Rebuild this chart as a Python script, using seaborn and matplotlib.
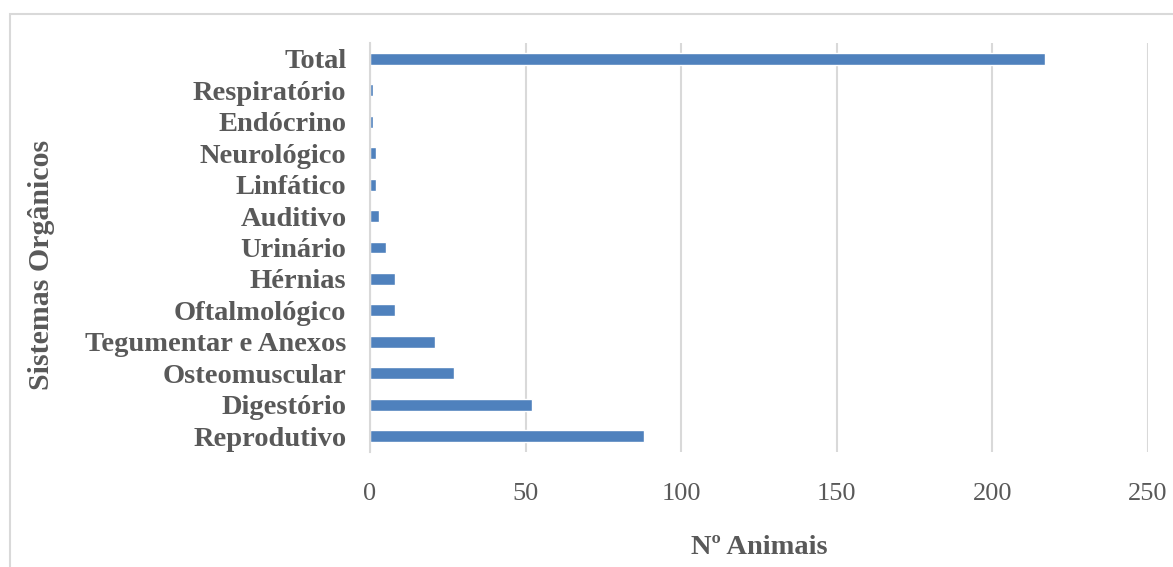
import matplotlib
matplotlib.use("Agg")
import matplotlib.pyplot as plt
from matplotlib.patches import Rectangle
import seaborn as sns
import pandas as pd

categories = ["Total", "Respiratório", "Endócrino", "Neurológico", "Linfático",
              "Auditivo", "Urinário", "Hérnias", "Oftalmológico",
              "Tegumentar e Anexos", "Osteomuscular", "Digestório", "Reprodutivo"]
values = [217, 1, 1, 2, 2, 3, 5, 8, 8, 21, 27, 52, 88]
x_ticks = [0, 50, 100, 150, 200, 250]

sns.set_theme(style="white")
plt.rcParams["font.family"] = ["Liberation Serif", "DejaVu Serif"]

df = pd.DataFrame({"Sistema": categories, "Animais": values})

W, H = 1173, 567
fig = plt.figure(figsize=(W / 100, H / 100), dpi=100)
ax = fig.add_axes([370 / W, 1 - 452 / H, (1148 - 370) / W, (452 - 43) / H])

sns.barplot(data=df, x="Animais", y="Sistema", orient="h", color="#4f81bd",
            width=0.38, ax=ax, saturation=1)

ax.set_xlim(0, 250)
ax.set_ylim(12.5, -0.5)
ax.set_xticks(x_ticks)
ax.set_xticklabels([str(t) for t in x_ticks], fontsize=19, color="#595959")
for lbl in ax.get_yticklabels():
    lbl.set_fontsize(20.5)
    lbl.set_fontweight("bold")
    lbl.set_color("#595959")
ax.tick_params(axis="x", length=0, pad=22)
ax.tick_params(axis="y", length=0, pad=17)

ax.xaxis.grid(True, color="#d9d9d9", linewidth=1.5)
ax.yaxis.grid(False)
ax.set_axisbelow(True)
for s in ["top", "right", "bottom"]:
    ax.spines[s].set_visible(False)
ax.spines["left"].set_color("#d9d9d9")
ax.spines["left"].set_linewidth(1.5)

ax.set_xlabel("")
ax.set_ylabel("")
fig.text(759 / W, 1 - 547 / H, "Nº Animais", ha="center", va="center",
         fontsize=20.5, fontweight="bold", color="#595959")
fig.text(42 / W, 1 - 265 / H, "Sistemas Orgânicos", ha="center", va="center",
         rotation=90, fontsize=21.5, fontweight="bold", color="#595959")

fig.patches.append(Rectangle((9.5 / W, -0.1), 1.2, 1.1 - 14 / H,
                             transform=fig.transFigure, fill=False,
                             edgecolor="#d9d9d9", linewidth=1.5))

fig.savefig("out.png", dpi=100, facecolor="white")
